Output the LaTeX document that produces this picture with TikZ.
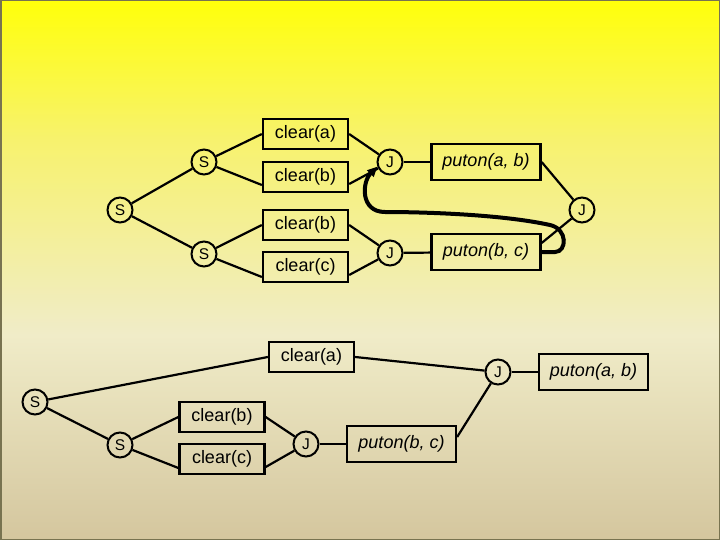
\documentclass[tikz,border=0pt]{standalone}
\usepackage{fontspec}
\setmainfont{Liberation Sans}
\usetikzlibrary{arrows.meta,calc}
\definecolor{cT}{RGB}{255,255,10}
\definecolor{cQ}{RGB}{247,242,110}
\definecolor{cM}{RGB}{240,236,200}
\definecolor{cB}{RGB}{212,198,158}
\definecolor{frame}{RGB}{120,115,80}
\pgfdeclareverticalshading{bgshade}{100bp}{color(0bp)=(cB); color(25bp)=(cB); color(44bp)=(cM); color(62bp)=(cQ); color(75bp)=(cT); color(100bp)=(cT)}
\tikzset{
  lab/.style={draw=black, line width=2.3pt, minimum width=85pt, minimum height=30pt, inner sep=0pt, font=\fontsize{18}{21}\selectfont},
  put/.style={draw=black, line width=2.3pt, minimum width=109pt, minimum height=36pt, inner sep=0pt, font=\fontsize{18}{21}\selectfont\itshape},
  circ/.style={draw=black, circle, line width=2pt, minimum size=25pt, inner sep=0pt, font=\fontsize{15.5}{18}\selectfont},
  edge/.style={draw=black, line width=2.2pt},
  bigarrow/.style={draw=black, line width=4pt, line cap=round, -{Triangle[length=10pt,width=9pt]}}
}
\begin{document}
\begin{tikzpicture}[x=1pt,y=-1pt]
\useasboundingbox (0,0) rectangle (720,540);
\shade[shading=bgshade] (0,0) rectangle (720,540);
\draw[frame, line width=1.5pt] (0.75,0.75) rectangle (719.25,539.25);

% top diagram
\node[circ] (s1) at (120,210) {S};
\node[circ] (s2) at (204,162) {S};
\node[circ] (s3) at (204,254) {S};
\node[lab] (ca1) at (305.5,134) {clear(a)};
\node[lab] (cb1) at (305.5,177) {clear(b)};
\node[lab] (cb2) at (305.5,225) {clear(b)};
\node[lab] (cc1) at (305.5,267) {clear(c)};
\node[circ] (j1) at (390,162) {J};
\node[circ] (j2) at (390,253) {J};
\node[put] (pa1) at (486,162) {puton(a, b)};
\node[put] (pb1) at (486,252) {puton(b, c)};
\node[circ] (j3) at (582,210) {J};

\draw[edge] (s1) -- (s2);
\draw[edge] (s1) -- (s3);
\draw[edge] (s2) -- (ca1.west);
\draw[edge] (s2) -- ([yshift=-8pt]cb1.west);
\draw[edge] (ca1.east) -- (j1);
\draw[edge] ([yshift=-7pt]cb1.east) -- (j1);
\draw[edge] (j1) -- (pa1);
\draw[edge] (pa1.east) -- (j3);
\draw[edge] (s3) -- (cb2.west);
\draw[edge] (s3) -- ([yshift=-10pt]cc1.west);
\draw[edge] (cb2.east) -- (j2);
\draw[edge] ([yshift=-8pt]cc1.east) -- (j2);
\draw[edge] (j2) -- (pb1);
\draw[edge] ([yshift=9pt]pb1.east) -- (j3);

\draw[bigarrow] (pb1.east) -- (555,252) .. controls (567,252) and (568,229) .. (550,225)
  .. controls (500,214) and (420,212) .. (385,212)
  .. controls (360,212) and (362,182) .. (j1.200);

% bottom diagram
\node[circ] (t1) at (35,402) {S};
\node[circ] (t2) at (120,445) {S};
\node[lab] (ca2) at (311.5,357) {clear(a)};
\node[lab] (cb3) at (222,417) {clear(b)};
\node[lab] (cc2) at (222,459) {clear(c)};
\node[circ] (j4) at (306,444) {J};
\node[put] (pb2) at (401.5,444) {puton(b, c)};
\node[circ] (j5) at (498,372) {J};
\node[put] (pa2) at (593.5,372) {puton(a, b)};

\draw[edge] (t1) -- (ca2.west);
\draw[edge] (t1) -- (t2);
\draw[edge] (t2) -- (cb3.west);
\draw[edge] (t2) -- ([yshift=-9pt]cc2.west);
\draw[edge] (cb3.east) -- (j4);
\draw[edge] ([yshift=-8pt]cc2.east) -- (j4);
\draw[edge] (j4) -- (pb2);
\draw[edge] (ca2.east) -- (j5);
\draw[edge] ([yshift=7pt]pb2.east) -- (j5);
\draw[edge] (j5) -- (pa2);
\end{tikzpicture}
\end{document}
